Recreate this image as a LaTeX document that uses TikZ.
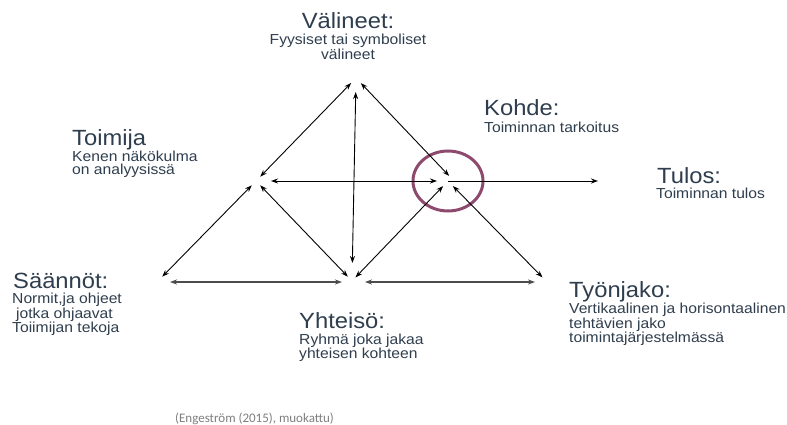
\documentclass[tikz,border=0pt]{standalone}
\usepackage{fontspec}
\setmainfont{Liberation Sans}[FakeStretch=1.08]
\newfontfamily\carl{Carlito}
\usetikzlibrary{arrows.meta}
\definecolor{txt}{HTML}{2F3E4E}
\definecolor{ring}{HTML}{8E4A6E}
\definecolor{citegray}{HTML}{7F7F7F}
\begin{document}
\begin{tikzpicture}[x=1pt,y=-1pt,
  ttl/.style={font=\fontsize{22}{24}\selectfont, text=txt, inner sep=0pt, anchor=base west},
  bdy/.style={font=\fontsize{14.5}{16}\selectfont, text=txt, inner sep=0pt, anchor=base west},
  ctr/.style={anchor=base},
  link/.style={line width=0.9pt, black, {Stealth[length=7pt,width=5pt]}-{Stealth[length=7pt,width=5pt]}},
  onelink/.style={line width=0.9pt, black, -{Stealth[length=7pt,width=5pt]}},
  baselink/.style={line width=1.2pt, black!70, {Stealth[length=7pt,width=5pt]}-{Stealth[length=7pt,width=5pt]}},
  vtx/.style={coordinate}]
\useasboundingbox[fill=white] (0,0) rectangle (787,425);

% vertices
\node[vtx] (V) at (356,78) {};
\node[vtx] (T) at (256,181) {};
\node[vtx] (K) at (448,181) {};
\node[vtx] (Kv) at (454,181) {};
\node[vtx] (R) at (600,181) {};
\node[vtx] (S) at (158,281) {};
\node[vtx] (Y) at (352,281) {};
\node[vtx] (W) at (546,281) {};
\node[vtx] (Sb) at (158,282) {};
\node[vtx] (Yb) at (352,282) {};
\node[vtx] (Wb) at (546,282) {};

% circle around object
\draw[ring, line width=3pt] (K) ellipse [x radius=35, y radius=30];

% connectors
\draw[link, shorten <=6pt, shorten >=7pt] (T) -- (V);
\draw[link, shorten <=7pt, shorten >=7pt] (V) -- (Kv);
\draw[link, shorten <=14pt, shorten >=18pt] (V) -- (Y);
\draw[link, shorten <=15pt, shorten >=11pt] (T) -- (K);
\draw[onelink, shorten <=0pt, shorten >=2pt] (K) -- (R);
\draw[link, shorten <=6pt, shorten >=6pt] (S) -- (T);
\draw[link, shorten <=6pt, shorten >=6pt] (T) -- (Y);
\draw[link, shorten <=5pt, shorten >=7pt] (Y) -- (K);
\draw[link, shorten <=7pt, shorten >=5pt] (K) -- (W);
\draw[baselink, shorten <=12pt, shorten >=10pt] (Sb) -- (Yb);
\draw[baselink, shorten <=13pt, shorten >=11pt] (Yb) -- (Wb);

% labels
\node[ttl, ctr] (v1) at (348,29) {Välineet:};
\node[bdy, ctr] (v2) at (348,45) {Fyysiset tai symboliset};
\node[bdy, ctr] (v3) at (348,60) {välineet};

\node[ttl] (t1) at (72,146) {Toimija};
\node[bdy] (t2) at (72,161) {Kenen näkökulma};
\node[bdy] (t3) at (72,175) {on analyysissä};

\node[ttl] (k1) at (484,116) {Kohde:};
\node[bdy] (k2) at (484,132) {Toiminnan tarkoitus};

\node[ttl] (r1) at (657,183) {Tulos:};
\node[bdy] (r2) at (656,198) {Toiminnan tulos};

\node[ttl] (s1) at (13,288) {Säännöt:};
\node[bdy] (s2) at (12,303) {Normit,ja ohjeet};
\node[bdy] (s3) at (16,318) {jotka ohjaavat};
\node[bdy] (s4) at (12,332) {Toiimijan tekoja};

\node[ttl] (y1) at (299,328) {Yhteisö:};
\node[bdy] (y2) at (299,344) {Ryhmä joka jakaa};
\node[bdy] (y3) at (299,358) {yhteisen kohteen};

\node[ttl] (w1) at (569,297) {Työnjako:};
\node[bdy] (w2) at (569,313) {Vertikaalinen ja horisontaalinen};
\node[bdy] (w3) at (569,328) {tehtävien jako};
\node[bdy] (w4) at (569,342) {toimintajärjestelmässä};

\node[inner sep=0pt, anchor=base west, text=citegray, font=\carl\fontsize{13}{15}\selectfont] (c1) at (175,422) {(Engeström (2015), muokattu)};
\end{tikzpicture}
\end{document}
